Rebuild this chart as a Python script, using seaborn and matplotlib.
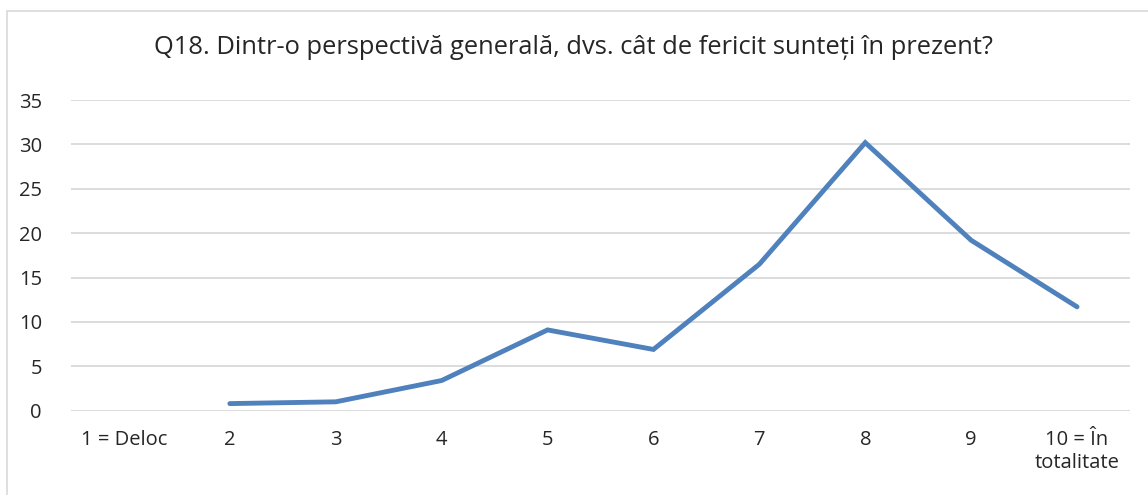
import numpy as np
import pandas as pd
import matplotlib.pyplot as plt
import seaborn as sns
from matplotlib.patches import Rectangle

# Q18 - raspunsuri in procente, 1 = Deloc nu are valoare
categorii = ["1 = Deloc", "2", "3", "4", "5", "6", "7", "8", "9", "10 = În\ntotalitate"]
procente = [np.nan, 0.8, 1.0, 3.4, 9.1, 6.9, 16.5, 30.2, 19.2, 11.7]
titlu = "Q18. Dintr-o perspectivă generală, dvs. cât de fericit sunteți în prezent?"

df = pd.DataFrame({"poz": range(len(categorii)), "procent": procente})

sns.set_style("white")
plt.rcParams["font.family"] = ["Open Sans", "DejaVu Sans"]

fig = plt.figure(figsize=(11.48, 4.95), dpi=100)
ax = fig.add_axes([71 / 1148, 1 - 410.7 / 495, (1130 - 71) / 1148, (410.7 - 100) / 495])

sns.lineplot(data=df, x="poz", y="procent", ax=ax, color="#4F81BD", linewidth=3.5,
             solid_capstyle="round", solid_joinstyle="miter")
for l in ax.lines:
    l.set_clip_on(False)

ax.set_xlim(-0.5, len(categorii) - 0.5)
ax.set_ylim(0, 35)
ax.set_yticks(range(0, 36, 5))
ax.set_xticks(range(len(categorii)))
ax.set_xticklabels(categorii, fontsize=14.5, color="#262626", va="top")
ax.tick_params(axis="y", labelsize=14.5, labelcolor="#262626", length=0, pad=21)
ax.tick_params(axis="x", length=0, pad=14)
for lab in ax.get_xticklabels():
    lab.set_linespacing(1.2)
ax.yaxis.grid(True, color="#D9D9D9", linewidth=1.3)
ax.set_axisbelow(True)
for s in ax.spines.values():
    s.set_visible(False)
ax.set_xlabel("")
ax.set_ylabel("")

fig.text(0.5, 1 - 47 / 495, titlu, ha="center", va="center", fontsize=18.4, color="#262626")

# rama graficului
fig.patches.append(Rectangle((7 / 1148, -0.05), 1.1, 1 - 11 / 495 + 0.05,
                             transform=fig.transFigure, fill=False,
                             edgecolor="#D9D9D9", linewidth=1.2))

fig.savefig("out.png", dpi=100)
